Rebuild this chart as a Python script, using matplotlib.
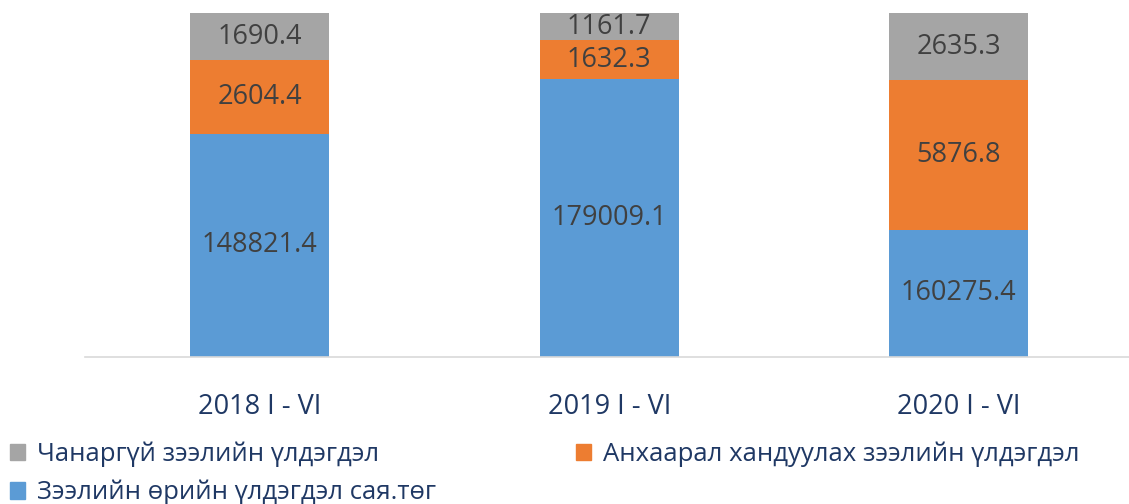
import matplotlib.pyplot as plt
import numpy as np
from matplotlib.patches import Patch

plt.rcParams['font.family'] = ['Open Sans', 'DejaVu Sans']

# data
categories = ["2018 I - VI", "2019 I - VI", "2020 I - VI"]
loans = [148821.4, 179009.1, 160275.4]       # Зээлийн өрийн үлдэгдэл
attention = [2604.4, 1632.3, 5876.8]         # Анхаарал хандуулах
bad = [1690.4, 1161.7, 2635.3]               # Чанаргүй

series = [loans, attention, bad]
names = ["Зээлийн өрийн үлдэгдэл сая.төг",
         "Анхаарал хандуулах зээлийн үлдэгдэл",
         "Чанаргүй зээлийн үлдэгдэл"]
colors = ["#5B9BD5", "#ED7D31", "#A5A5A5"]

vals = np.array(series)
share = vals / vals.sum(axis=0)   # 100% stacked

fig = plt.figure(figsize=(11.29, 5.04), dpi=100)
ax = fig.add_axes([85 / 1129, 1 - 357 / 504, 1048.5 / 1129, 344 / 504])

x = np.arange(len(categories))
bottom = np.zeros(len(categories))
for s, raw, c in zip(share, vals, colors):
    ax.bar(x, s, 0.398, bottom=bottom, color=c, zorder=2)
    for xi, b, h, v in zip(x, bottom, s, raw):
        lo = max(b, 0.92)
        ax.text(xi, (lo + b + h) / 2, f"{v:.1f}", ha="center", va="center",
                fontsize=19.5, color="#404040", zorder=3)
    bottom += s

ax.set_ylim(0.92, 1.0)
ax.set_xlim(-0.5, 2.5)
for sp in ["top", "right", "left"]:
    ax.spines[sp].set_visible(False)
ax.spines["bottom"].set_color("#D9D9D9")
ax.spines["bottom"].set_linewidth(1.2)
ax.set_yticks([])
ax.set_xticks(x)
ax.set_xticklabels(categories, fontsize=19.5, color="#1F3864")
ax.tick_params(axis="x", length=0, pad=26)

handles = [Patch(color=colors[2]), Patch(color=colors[0]), Patch(color=colors[1])]
labels = [names[2], names[0], names[1]]
fig.legend(handles, labels, ncol=2, loc="upper left", bbox_to_anchor=(0.002, 0.139),
           frameon=False, fontsize=18.5, labelcolor="#1F3864",
           handlelength=0.6, handleheight=0.6, handletextpad=0.45,
           columnspacing=5.45, labelspacing=0.5, borderaxespad=0, borderpad=0.3)

fig.savefig("out.png", dpi=100)
